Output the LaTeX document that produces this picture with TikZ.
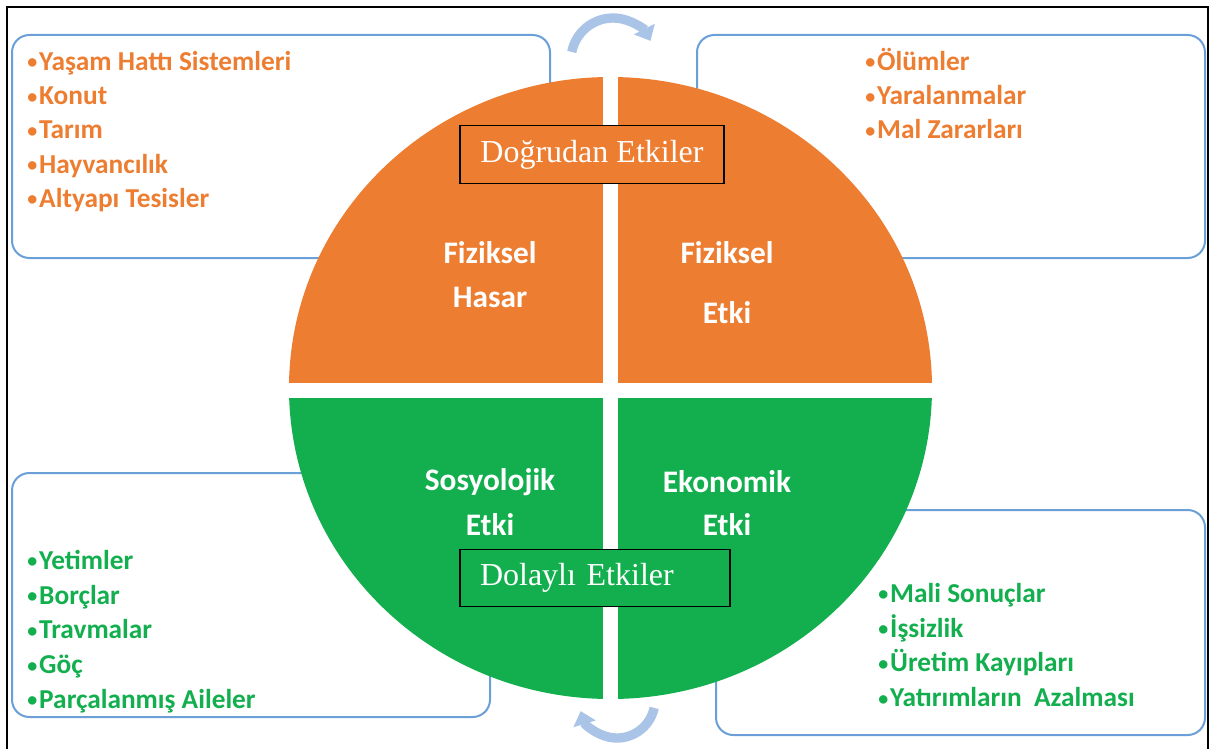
\documentclass[tikz,border=0pt]{standalone}
\usepackage{fontspec}
\setmainfont{Liberation Serif}
\newfontfamily\calfont{Carlito}
\usetikzlibrary{arrows.meta}
\definecolor{etkiorange}{HTML}{ED7D31}
\definecolor{etkigreen}{HTML}{13AF4F}
\definecolor{boxblue}{HTML}{6A9FD8}
\definecolor{turnblue}{HTML}{A9C4E6}
\newcommand{\smallbul}{\raisebox{1.2pt}{\fontsize{15}{15}\selectfont•}\hspace{1.5pt}}
\tikzset{
  listbox/.style={draw=boxblue, line width=1.5pt, fill=white, rounded corners=13pt},
  orangeitem/.style={anchor=west, inner sep=0pt, text=etkiorange, font=\calfont\bfseries\fontsize{20.5}{24}\selectfont, text height=1.5ex, text depth=0.4ex},
  greenitem/.style={orangeitem, text=etkigreen},
  quarterlabel/.style={inner sep=0pt, text=white, font=\calfont\bfseries\fontsize{23.5}{28}\selectfont},
  headbox/.style={draw=black, line width=0.9pt, text=white, inner xsep=15pt, minimum height=43pt, font=\fontsize{24}{27}\selectfont},
  turnarrow/.style={draw=turnblue, line width=7pt, -{Triangle[width=17pt, length=10pt]}}
}
\begin{document}
\begin{tikzpicture}[x=0.75pt, y=-0.75pt]
\useasboundingbox (0,0) rectangle (1210,749);
% Frame
\draw[line width=2pt] (7,749) -- (7,7) -- (1208,7) -- (1208,749);

% List boxes
\draw[listbox] (12,35) rectangle (550,258);
\draw[listbox] (697,35) rectangle (1205,258);
\draw[listbox] (12,473) rectangle (490,717);
\draw[listbox] (716,510) rectangle (1205,735);

% Circle
\begin{scope}
\clip (610.5,388) ellipse [x radius=321.5, y radius=311];
\fill[etkiorange] (280,60) rectangle (945,390.5);
\fill[etkigreen] (280,390.5) rectangle (945,720);
\end{scope}
\draw[white, line width=11.25pt] (610.5,60) -- (610.5,720);
\draw[white, line width=11.25pt] (280,390.5) -- (945,390.5);

% Quarter labels
\node[quarterlabel] (fh1) at (490,253) {Fiziksel};
\node[quarterlabel] (fh2) at (490,297) {Hasar};
\node[quarterlabel] (fe1) at (727,253) {Fiziksel};
\node[quarterlabel] (fe2) at (727,313) {Etki};
\node[quarterlabel] (se1) at (490,482) {Sosyolojik};
\node[quarterlabel] (se2) at (490,525) {Etki};
\node[quarterlabel] (ee1) at (727,482) {Ekonomik};
\node[quarterlabel] (ee2) at (727,525) {Etki};

% Lists
\foreach \t [count=\i] in {Yaşam Hattı Sistemleri, Konut, Tarım, Hayvancılık, Altyapı Tesisler}
  \node[orangeitem] (hasar\i) at (27,{67+34.3*(\i-1)}) {\smallbul\t};
\foreach \t [count=\i] in {Ölümler, Yaralanmalar, Mal Zararları}
  \node[orangeitem] (etki\i) at (865,{67+34.3*(\i-1)}) {\smallbul\t};
\foreach \t [count=\i] in {Yetimler, Borçlar, Travmalar, Göç, Parçalanmış Aileler}
  \node[greenitem] (sosyo\i) at (27,{566+34.8*(\i-1)}) {\smallbul\t};
\foreach \t [count=\i] in {Mali Sonuçlar, İşsizlik, Üretim Kayıpları, Yatırımların~ Azalması}
  \node[greenitem] (ekono\i) at (878,{599+34.8*(\i-1)}) {\smallbul\t};

% Head boxes
\node[headbox, fill=etkiorange, minimum width=198pt] (dogrudan) at (592,154.5) {Doğrudan Etkiler};
\node[headbox, fill=etkigreen, text width=172.5pt, align=left] (dolayli) at (595,578) {Dolaylı Etkiler};

% Turning arrows
\draw[turnarrow] (613,60) ++(191:42) arc[start angle=191, end angle=333, radius=42];
\draw[turnarrow] (617,700) ++(12:38) arc[start angle=12, end angle=163, radius=38];
\end{tikzpicture}
\end{document}
